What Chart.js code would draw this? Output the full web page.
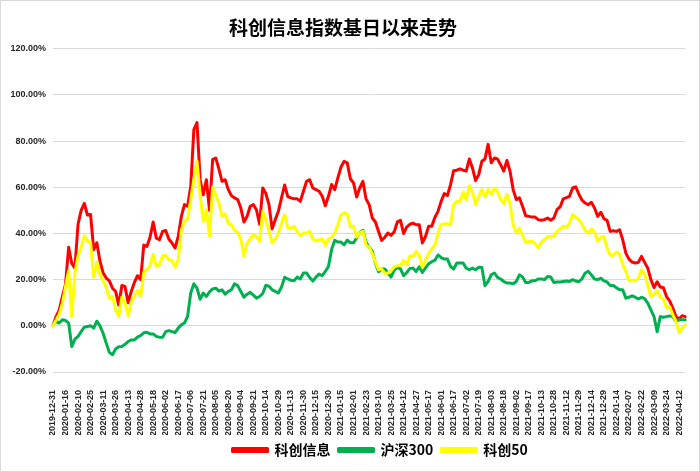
<!DOCTYPE html>
<html><head><meta charset="utf-8">
<script src="https://cdn.jsdelivr.net/npm/chart.js@4"></script>
<style>
html,body{margin:0;padding:0;background:#fff;}
#wrap{position:relative;width:700px;height:472px;}
#frame{position:absolute;left:0;top:0;width:700px;height:472px;box-sizing:border-box;border:1px solid #d9d9d9;pointer-events:none;}
canvas{display:block;}
</style></head>
<body><div id="wrap"><canvas id="c" width="700" height="472"></canvas><div id="frame"></div></div>
<script>
const tickLabels = ["2019-12-31","2020-01-16","2020-02-10","2020-02-25","2020-03-11","2020-03-26","2020-04-13","2020-04-28","2020-05-18","2020-06-02","2020-06-17","2020-07-06","2020-07-21","2020-08-05","2020-08-20","2020-09-04","2020-09-21","2020-10-14","2020-10-29","2020-11-13","2020-11-30","2020-12-15","2020-12-30","2021-01-15","2021-02-01","2021-02-23","2021-03-10","2021-03-25","2021-04-12","2021-04-27","2021-05-17","2021-06-01","2021-06-17","2021-07-02","2021-07-19","2021-08-03","2021-08-18","2021-09-02","2021-09-17","2021-10-13","2021-10-28","2021-11-12","2021-11-29","2021-12-14","2021-12-29","2022-01-14","2022-02-07","2022-02-22","2022-03-09","2022-03-24","2022-04-12"];

const yTicks = [-20, 0, 20, 40, 60, 80, 100, 120];

const kcxx = [
0,4.0,6.9,12.7,18,34,27,25,44,50,
53,48,48.2,33,36,28,23,20.7,19.5,16.3,
14.9,9,17.5,17.1,10,14.9,18.8,21.7,20,35,
34.4,38.4,45,38,37.3,40.9,41.3,37.6,35.9,33.7,
38.7,47.4,52.5,51.8,60.4,85,88,63.3,56.8,63.3,
50,72,72.7,68,62.6,63.3,59,56.4,55.4,54.7,
51,45,47.4,51.8,52.5,50.3,44,59.7,57.3,52.5,
42,46,49.6,55.4,61,56,55.4,55,55,53.9,
58.3,62.6,63.3,59.7,59,58.3,56.1,52,56.1,61.2,
59,64.1,68.8,71.3,70.6,63.7,61.9,55.8,59.7,62.6,
55,52.5,46.7,45,40.9,37,38.4,40.2,39.2,40.7,
45,45.7,40,42.8,44,44.5,43.8,43.8,35.9,38.7,
43.1,43.1,47,49.6,53.9,57.3,56.4,61.2,67.2,67.4,
68,67.4,67,72.3,68.4,62.9,65.5,71.3,72.3,78.6,
70.6,72.7,72.3,69.8,67,71.6,67,59,54.7,55.4,
51.8,47.7,47.4,47.1,47.1,46,45.7,46,46.7,45.7,
46.7,50.3,51.5,55,55.5,56.1,59.7,60.2,57,54.4,
53.2,52.5,53.5,51,47.4,49.2,46.4,45.7,40.9,41.2,
40.9,41.6,37.3,31.5,28.9,27.6,27.2,27.5,30.1,27.5,
25,20,16.6,19.1,16.8,16.5,12.7,10.8,7.7,4.0,
3.0,4.4,4.0
];

const hs300 = [
0.5,1.9,1.2,2.6,2.3,1.2,-9,-5.8,-4.6,-2.5,
-0.6,-0.3,0,-1,2,0,-3.2,-7.5,-11.5,-12.5,
-10,-9.1,-9,-8,-6.8,-6.1,-6.1,-4.9,-4.2,-3,
-2.8,-3.5,-3.5,-4.6,-4.9,-5,-2.5,-2.1,-2.5,-2.9,
-1,0.4,1.2,4.1,14.2,18.2,16.3,11.5,14.2,12.7,
14.7,16,16.3,15,15.6,13.7,14.9,15.6,18.2,17.4,
14.9,12.4,13.7,14.5,13.3,12,12.7,14,17.6,17.1,
15.6,14.9,14.2,16.8,21,20.3,19.7,19.5,21.1,20.3,
22.9,22.9,20.9,19.4,21.1,22.4,21.7,23.6,25.7,33,
37.1,36.3,36.3,35.1,37.1,36,36,38.1,40.3,41.4,
36.2,34.1,32.2,27.2,23.4,24.6,24.6,22.9,21.1,24.1,
25.3,24.7,21.7,23.1,24.8,25,23.6,25.6,23.1,25.1,
26.9,27.8,28.4,30.7,29.5,28.9,28.9,25.7,24.6,27.2,
27.2,27.2,25,24.3,25,24.3,25.4,25.3,17.4,19.2,
22.1,22.9,21,20.3,19.2,18.5,18.5,18.2,19.2,22.1,
21.2,18.8,18.8,19.5,19.5,20.3,20.3,20,21.4,21.2,
18.8,19,19,19.2,19.4,19.2,20,19.4,19.1,20.4,
22.9,23.6,22,20.3,20,20.6,19.5,19,17.5,17.5,
16.5,15.6,15.6,12,12.4,13,12.4,11.6,12.4,11.8,
9.8,6.9,4,-2.5,4,3.7,4,4.3,4,1.9,
2.6,2.6,2.6
];

const kc50 = [
0,2.6,5.1,9.8,17,23.8,4,22.9,30.4,34.1,
39,36.6,36.2,21,27.5,22.1,19.5,16.8,11.9,12.7,
6.9,4.0,12.4,9.8,4.3,10.5,13.1,15.3,12.7,23.2,
24.3,26,31,25.7,26.6,30.4,30.5,28.6,28.4,25.4,
28.6,41.6,45.3,46.4,54.7,63.3,71.3,56.8,45.3,50.3,
39,60.1,56.8,53.2,47.4,48.5,44.2,43.8,41.3,40.5,
37.5,30.1,35.9,37.6,39.5,38.7,36.6,49.6,46,40.9,
35.9,37.6,40.2,44.5,48.2,42.4,42.4,43.1,40.9,39,
40.2,40.2,40.9,37.6,36.7,37.3,37.6,34.8,37.6,38.4,
40.2,43.8,48,48.9,48.5,42.8,43.1,38.4,40.2,40.9,
35,34.1,31.2,27.7,24.3,24.6,22.8,22.9,23.8,25.6,
26,26.1,28.4,26.4,30.2,30.1,32.2,30.5,25.3,28.6,
31.4,33.3,35,40.2,43.8,44.1,44.2,43.8,52.5,53.9,
54,57.9,54.7,60.7,57.9,52.5,56.1,59,55.8,59,
56.8,59.7,58.1,54.7,52.9,57,52.9,43.8,40.2,42.4,
39,36.2,36.5,36.7,35.6,33.7,36.2,37.3,38.7,38.4,
39,40.9,41.9,43.2,42.6,44.5,48.2,47,46,44,
41.3,40.2,41.9,40.5,36.6,38.3,38.7,33.7,30.6,30.6,
32,31,26.5,23.6,19.5,19.5,19.5,20.7,24.3,22.1,
17.8,12.7,13.6,15.2,12.4,11.6,7.8,8.4,4.8,1.9,
-3,-1,0.5
];

const PER_TICK = 4;
const labels = kcxx.map((_, i) => (i % PER_TICK === 0 && tickLabels[i / PER_TICK]) ? tickLabels[i / PER_TICK] : '');

const tickFont = {family: '"Liberation Sans", Arial, sans-serif', size: 9, weight: 'bold'};
const cjk = '"Noto Sans CJK SC", "Noto Sans", sans-serif';

const legendShift = {
  id: 'legendShift',
  afterLayout(chart) {
    const l = chart.legend;
    if (l) { l.left += 11; l.right += 11; }
  }
};

new Chart(document.getElementById('c'), {
  type: 'line',
  data: {
    labels: labels,
    datasets: [
      {label: '科创信息', data: kcxx, borderColor: '#FF0000', backgroundColor: '#FF0000', order: 3},
      {label: '沪深300', data: hs300, borderColor: '#00B050', backgroundColor: '#00B050', order: 2},
      {label: '科创50', data: kc50, borderColor: '#FFFF00', backgroundColor: '#FFFF00', order: 1}
    ]
  },
  plugins: [legendShift],
  options: {
    responsive: false,
    animation: false,
    layout: {padding: {left: 0, right: 14, top: 0, bottom: 5}},
    elements: {
      line: {borderWidth: 3, tension: 0, borderJoinStyle: 'round', borderCapStyle: 'round'},
      point: {radius: 0, hoverRadius: 0}
    },
    plugins: {
      tooltip: {enabled: false},
      title: {
        display: true,
        text: '科创信息指数基日以来走势',
        color: '#000',
        font: {family: cjk, size: 19, weight: 'bold'},
        padding: {top: 16, bottom: 10}
      },
      legend: {
        position: 'bottom',
        fullSize: false,
        labels: {
          boxWidth: 35,
          boxHeight: 3,
          padding: 8,
          color: '#000',
          font: {family: cjk, size: 14, weight: 'bold'},
          sort: (a, b) => a.datasetIndex - b.datasetIndex
        }
      }
    },
    scales: {
      x: {
        type: 'category',
        grid: {display: false},
        border: {display: false},
        ticks: {
          autoSkip: false,
          minRotation: 90,
          maxRotation: 90,
          padding: 10,
          color: '#262626',
          font: tickFont,
          callback: function(v, i) { const l = labels[i]; return l ? l : null; }
        },
        afterFit: (s) => { s.height = 63; }
      },
      y: {
        min: yTicks[0],
        max: yTicks[yTicks.length - 1],
        afterBuildTicks: (s) => { s.ticks = yTicks.map(v => ({value: v})); },
        grid: {color: '#d9d9d9', lineWidth: 1, drawTicks: false},
        border: {display: false},
        ticks: {
          padding: 7,
          color: '#262626',
          font: tickFont,
          callback: (v) => Number(v).toFixed(2) + '%'
        },
        afterFit: (s) => { s.width = 53; }
      }
    }
  }
});
</script>
</body></html>
